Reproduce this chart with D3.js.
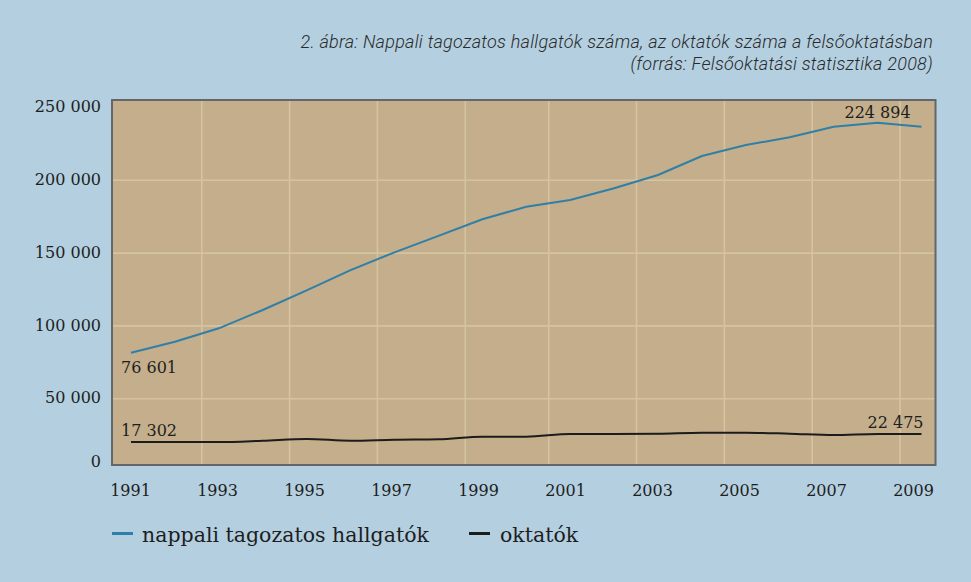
<!DOCTYPE html>
<html>
<head>
<meta charset="utf-8">
<style>
body{ margin:0; background:#b3cfe0; }
svg{ display:block; }
.title{ font-family: Roboto, "Noto Sans", sans-serif; font-style: italic; font-weight: 300; font-size: 18px; letter-spacing: 0.25px; fill: #2a2a2a; }
.axis text{ font-family: "DejaVu Serif", serif; font-size: 16px; fill: #1e1e1e; }
.axis .domain{ display: none; }
.grid line{ stroke: #d5c4a2; stroke-width: 1.6; }
.grid .domain, .grid text{ display: none; }
.annot{ font-family: "DejaVu Serif", serif; font-size: 16px; fill: #1e1e1e; }
</style>
<script src="https://cdn.jsdelivr.net/npm/d3@7"></script>
</head>
<body>
<script>
var years = [1991, 1992, 1993, 1994, 1995, 1996, 1997, 1998, 1999, 2000,
             2001, 2002, 2003, 2004, 2005, 2006, 2007, 2008, 2009];
var hallgatok = [81250, 88800, 98000, 110600, 124100, 138000, 150200, 161500, 172900, 181500,
                 186100, 194200, 203300, 216300, 223900, 229200, 236500, 239200, 236500];
var oktatok = [19900, 19900, 19900, 20800, 22000, 20800, 21500, 21800, 23600, 23600,
               25400, 25400, 25600, 26300, 26300, 25600, 24700, 25400, 25400];
var seriesNames = ["nappali tagozatos hallgatók", "oktatók"];
var seriesColors = ["#2f7fa6", "#1c1c1c"];
var yTicks = [0, 50000, 100000, 150000, 200000, 250000];
var yGrid = [50000, 100000, 150000, 200000];
var xTicks = [1991, 1993, 1995, 1997, 1999, 2001, 2003, 2005, 2007, 2009];
var xGrid = [1992.6, 1994.6, 1996.6, 1998.6, 2000.5, 2002.5, 2004.5, 2006.5, 2008.5];
var titleLines = ["2. ábra: Nappali tagozatos hallgatók száma, az oktatók száma a felsőoktatásban",
                  "(forrás: Felsőoktatási statisztika 2008)"];
// value labels: [series index, year, text]
var annotations = [[0, 1991, "76 601"], [1, 1991, "17 302"], [0, 2008, "224 894"], [1, 2009, "22 475"]];

var w = 971, h = 582;
var plot = {left: 112, right: 935.5, top: 100, bottom: 465};

var svg = d3.select("body").append("svg")
    .attr("width", w)
    .attr("height", h);

var x = d3.scaleLinear().domain([1991, 2009]).range([131, 921.5]);
var xLab = d3.scaleLinear().domain([1991, 2009]).range([130, 913]);
var y = d3.scaleLinear().domain([0, 250000]).range([471, 107]);

var fmt = d3.formatLocale({decimal: ",", thousands: " ", grouping: [3], currency: ["", ""]}).format(",");

// title
svg.selectAll(".title")
   .data(titleLines)
   .enter().append("text")
   .attr("class", "title")
   .attr("x", 933)
   .attr("y", function(d, i){ return 48 + i * 22; })
   .attr("text-anchor", "end")
   .text(function(d){ return d; });

// plot background
svg.append("rect")
   .attr("x", plot.left)
   .attr("y", plot.top)
   .attr("width", plot.right - plot.left)
   .attr("height", plot.bottom - plot.top)
   .attr("fill", "#c4ae8b");

// grid
svg.append("g")
   .attr("class", "grid")
   .attr("transform", "translate(" + plot.left + ",0)")
   .call(d3.axisLeft(y).tickValues(yGrid).tickSize(-(plot.right - plot.left)).tickFormat(""));

svg.append("g")
   .attr("class", "grid")
   .attr("transform", "translate(0," + plot.bottom + ")")
   .call(d3.axisBottom(x).tickValues(xGrid).tickSize(-(plot.bottom - plot.top)).tickFormat(""));

// lines
var series = [hallgatok, oktatok];
var curves = [d3.curveLinear, d3.curveMonotoneX];
series.forEach(function(vals, i){
    var line = d3.line()
        .curve(curves[i])
        .x(function(d, j){ return x(years[j]); })
        .y(function(d){ return y(d); });
    svg.append("path")
       .datum(vals)
       .attr("fill", "none")
       .attr("stroke", seriesColors[i])
       .attr("stroke-width", 2)
       .attr("d", line);
});

// frame
svg.append("rect")
   .attr("x", plot.left)
   .attr("y", plot.top)
   .attr("width", plot.right - plot.left)
   .attr("height", plot.bottom - plot.top)
   .attr("fill", "none")
   .attr("stroke", "#63676b")
   .attr("stroke-width", 2);

// value labels
svg.selectAll(".annot")
   .data(annotations)
   .enter().append("text")
   .attr("class", "annot")
   .attr("x", function(d){
       var px = x(d[1]);
       if (d[1] == 1991) return px - 10;
       if (d[0] == 0) return px;
       return px + 2;
   })
   .attr("y", function(d){
       var py = y(series[d[0]][years.indexOf(d[1])]);
       if (d[1] == 1991 && d[0] == 0) return py + 20.5;
       if (d[0] == 0) return py - 4.5;
       return py - 6;
   })
   .attr("text-anchor", function(d){
       if (d[1] == 1991) return "start";
       return d[0] == 0 ? "middle" : "end";
   })
   .text(function(d){ return d[2]; });

// y axis
var yAxis = svg.append("g")
   .attr("class", "axis")
   .attr("transform", "translate(101,0)")
   .call(d3.axisLeft(y).tickValues(yTicks).tickSize(0).tickPadding(0).tickFormat(fmt));
yAxis.selectAll(".tick")
   .attr("transform", function(d){ return "translate(0," + Math.min(y(d), plot.bottom - 3) + ")"; });

// x axis
svg.append("g")
   .attr("class", "axis")
   .attr("transform", "translate(0,476)")
   .call(d3.axisBottom(xLab).tickValues(xTicks).tickSize(0).tickPadding(9).tickFormat(d3.format("d")));

// legend
var legendX = [112, 469];
var lg = svg.selectAll(".legend")
   .data(seriesNames)
   .enter().append("g")
   .attr("class", "legend")
   .attr("transform", function(d, i){ return "translate(" + legendX[i] + ",533.5)"; });
lg.append("line")
  .attr("x1", 0).attr("x2", 21)
  .attr("stroke", function(d, i){ return seriesColors[i]; })
  .attr("stroke-width", 3);
lg.append("text")
  .attr("x", function(d, i){ return i == 0 ? 30 : 31; })
  .attr("y", 8)
  .attr("font-family", "'DejaVu Serif', serif")
  .attr("font-size", "20.5px")
  .attr("fill", "#1e1e1e")
  .text(function(d){ return d; });
</script>
</body>
</html>
